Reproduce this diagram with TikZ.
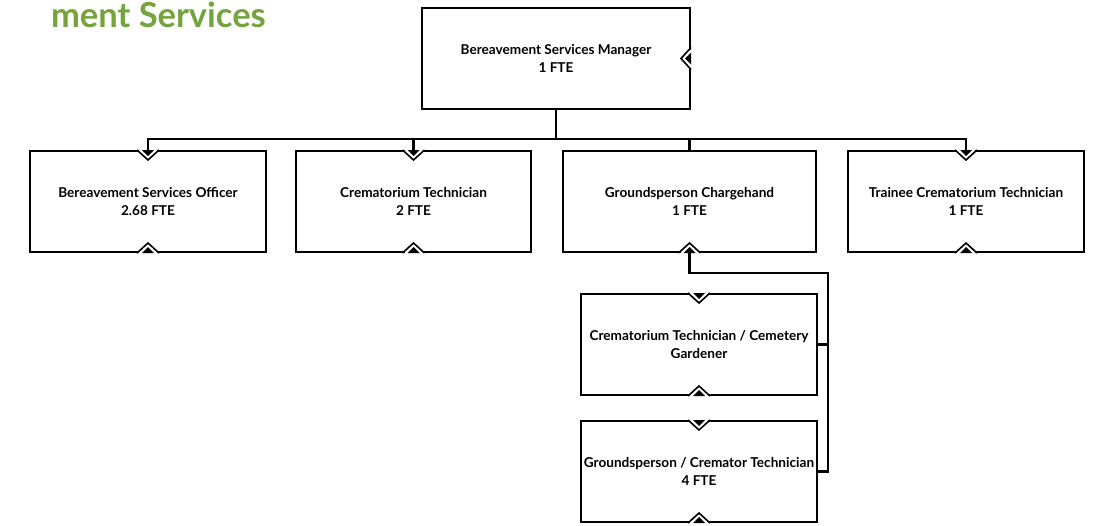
\documentclass[tikz,border=0pt]{standalone}
\usepackage{fontspec}
\setmainfont{Lato}
\usepackage{tikz}
\usetikzlibrary{calc}
\definecolor{titlegreen}{RGB}{117,163,60}
\tikzset{
  box/.style={draw, line width=2pt, fill=white, minimum height=101pt, inner sep=0pt,
    align=center, font=\bfseries\fontsize{13.6}{18}\selectfont},
  link/.style={line width=2.6pt},
}
\newcommand{\port}[2]{%
  \begin{scope}[shift={(#1)}, rotate=#2]
    \draw[white, line width=4pt] (-9,0) -- (9,0);
    \draw[line width=1.6pt, line join=miter] (-11,0) -- (0,10) -- (11,0);
    \fill (-6,0) -- (6,0) -- (0,6) -- cycle;
  \end{scope}}

\begin{document}
\begin{tikzpicture}[x=1pt,y=-1pt]
\useasboundingbox (0,0) rectangle (1097,525);
\node[anchor=base east, text=titlegreen, inner sep=0pt, font=\bfseries\fontsize{34.5}{40}\selectfont] (title) at (266,27.5) {ment Services};
\node[box, minimum width=268pt] (mgr) at (556,58.5) {Bereavement Services Manager\\1 FTE};
\node[box, minimum width=236pt] (bso) at (148,201.5) {Bereavement Services Officer\\2.68 FTE};
\node[box, minimum width=235pt] (ct) at (413.5,201.5) {Crematorium Technician\\2 FTE};
\node[box, minimum width=253pt] (gc) at (689.5,201.5) {Groundsperson Chargehand\\1 FTE};
\node[box, minimum width=236pt] (tct) at (966,201.5) {Trainee Crematorium Technician\\1 FTE};
\node[box, minimum width=236pt] (ctcg) at (699,344.5) {Crematorium Technician / Cemetery\\Gardener};
\node[box, minimum width=236pt] (gct) at (699,471.5) {Groundsperson / Cremator Technician\\4 FTE};
\coordinate (bus) at (556,139);
\coordinate (riser) at (828,273);
\port{mgr.east}{-90}
\foreach \n in {bso,ct,tct,ctcg,gct} {\port{\n.north}{0}}
\foreach \n in {bso,ct,gc,tct,ctcg,gct} {\port{\n.south}{180}}
\draw[link] (mgr.south) -- (bus);
\foreach \n in {bso,ct,gc,tct} {\draw[link] (bus) -| (\n.north);}
\draw[link] (gc.south) |- (riser) -- (riser |- gct.east) -- (gct.east);
\draw[link] (riser |- ctcg.east) -- (ctcg.east);
\end{tikzpicture}
\end{document}
